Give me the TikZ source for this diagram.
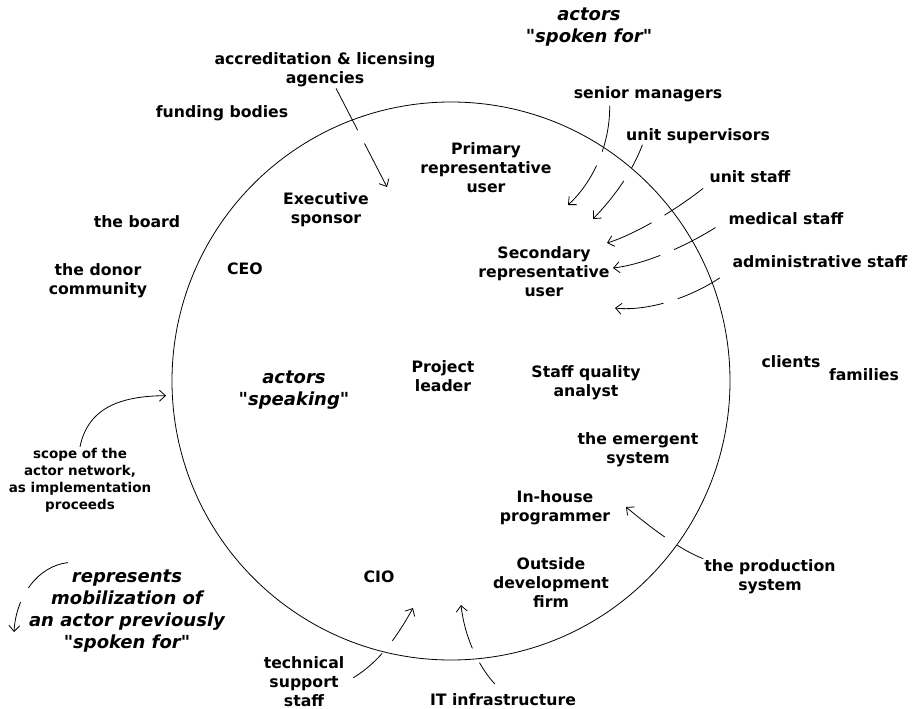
\documentclass[tikz,border=0pt]{standalone}
\usepackage{fontspec}
\setmainfont{DejaVu Sans}[Ligatures=TeXOff]
\usetikzlibrary{arrows.meta}

\begin{document}
\begin{tikzpicture}[x=1pt,y=-1pt,>={Straight Barb[length=6pt,width=11pt]},actor node/.style={font=\fontsize{15.7}{19}\selectfont\bfseries, align=center, inner sep=1pt},note node/.style={font=\fontsize{13.5}{17}\selectfont\bfseries, align=center, inner sep=1pt},head node/.style={font=\fontsize{18}{22}\selectfont\bfseries\itshape, align=center, inner sep=1pt},mobil/.style={<-, line width=0.8pt, dash pattern=on 48pt off 15pt on 47pt off 16pt}]
			\useasboundingbox (0,0) rectangle (913,709);
			% Nodes
			\node[circle, draw, line width=0.8pt, minimum size=558pt, inner sep=0pt] (net) at (451,381) {};
			\node[head node] (spoken) at (589,27) {actors\\"spoken for"};
			\node[head node] (speaking) at (294,390) {actors\\"speaking"};
			\node[head node] (legend) at (127,611) {represents\\mobilization of\\an actor previously\\"spoken for"};
			\node[note node] (scope) at (80,480) {scope of the\\actor network,\\as implementation\\proceeds};
			
			% inside the network
			\node[actor node] (exec) at (326,210) {Executive\\sponsor};
			\node[actor node] (ceo) at (245,269) {CEO};
			\node[actor node] (primary) at (486,168) {Primary\\representative\\user};
			\node[actor node] (secondary) at (544,272) {Secondary\\representative\\user};
			\node[actor node] (leader) at (443,376) {Project\\leader};
			\node[actor node] (analyst) at (586,383) {Staff quality\\analyst};
			\node[actor node] (emergent) at (638,450) {the emergent\\system};
			\node[actor node] (inhouse) at (555,508) {In-house\\programmer};
			\node[actor node] (outside) at (551,583) {Outside\\development\\firm};
			\node[actor node] (cio) at (379,577) {CIO};
			
			% outside the network
			\node[actor node] (accr) at (325,70) {accreditation \& licensing\\agencies};
			\node[actor node] (funding) at (222,113) {funding bodies};
			\node[actor node] (board) at (137,222) {the board};
			\node[actor node] (donor) at (98,281) {the donor\\community};
			\node[actor node] (senior) at (648,94) {senior managers};
			\node[actor node] (super) at (698,136) {unit supervisors};
			\node[actor node] (ustaff) at (750,177) {unit staff};
			\node[actor node] (medical) at (786,219) {medical staff};
			\node[actor node] (admin) at (820,262) {administrative staff};
			\node[actor node] (clients) at (791,362) {clients};
			\node[actor node] (families) at (864,375) {families};
			\node[actor node] (prod) at (770,577) {the production\\system};
			\node[actor node] (tech) at (304,682) {technical\\support\\staff};
			\node[actor node] (itinf) at (503,700) {IT infrastructure};
			
			% arrow tips
			\coordinate (tAccr) at (387,187);
			\coordinate (tSenior) at (568,205);
			\coordinate (tSuper) at (593,219);
			\coordinate (tUnit) at (607,243);
			\coordinate (tMed) at (613,268);
			\coordinate (tAdmin) at (615,308);
			\coordinate (tProd) at (626,507);
			\coordinate (tIT) at (461,605);
			\coordinate (tTech) at (413,608);
			\coordinate (tLegend) at (14,632);
			
			\draw[->, line width=0.8pt, shorten >=6pt] (scope.north) .. controls (88,408) and (120,396) .. (net.183);
			
			\draw[mobil] (tAccr) -- (accr.-59);
			\draw[mobil] (tSenior) .. controls (592,183) and (611,145) .. (senior.-167);
			\draw[mobil] (tSuper) .. controls (615,196) and (632,172) .. (super.-171);
			\draw[mobil] (tUnit) .. controls (630,236) and (670,215) .. (ustaff.south west);
			\draw[mobil] (tMed) .. controls (640,265) and (680,250) .. ([xshift=-10pt]medical.south west);
			\draw[mobil] (tAdmin) .. controls (650,312) and (700,295) .. (admin.south west);
			\draw[mobil] (tProd) .. controls (650,527) and (680,550) .. (prod.north west);
			\draw[mobil, dash pattern=on 44pt off 16pt, shorten >=12pt] (tIT) .. controls (465,640) and (480,668) .. (itinf.north);
			\draw[mobil, dash pattern=on 38pt off 16pt] (tTech) .. controls (398,635) and (378,666) .. (tech.east);
			\draw[mobil, dash pattern=on 30pt off 16pt on 80pt off 1pt] (tLegend) .. controls (16,596) and (38,566) .. ([xshift=40pt,yshift=6pt]legend.north west);
			
		\end{tikzpicture}
\end{document}
